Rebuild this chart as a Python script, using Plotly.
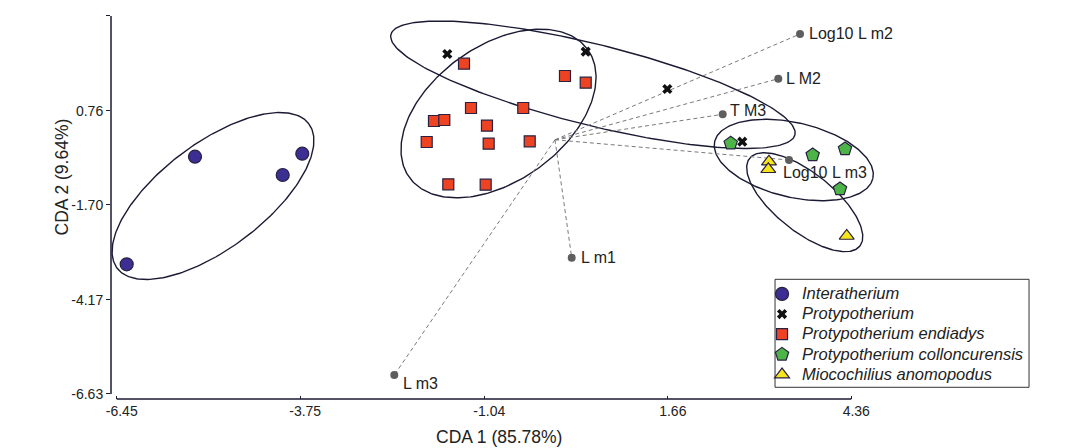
import numpy as np
import plotly.graph_objects as go

# ---------------- data (CDA scores) ----------------
inter_x = [-5.298, -4.007, -3.719, -6.303]
inter_y = [-0.441, -0.918, -0.363, -3.247]

proto_x = [-1.585, 0.452, 1.653, 2.756]
proto_y = [2.238, 2.298, 1.325, -0.050]

endi_x = [-1.339, 0.147, 0.452, -1.236, -0.467, -1.781, -1.629, -1.001, -1.888, -0.976, -0.372, -1.570, -1.020]
endi_y = [1.985, 1.664, 1.489, 0.829, 0.829, 0.490, 0.516, 0.368, -0.057, -0.102, -0.039, -1.161, -1.171]

coll_x = [2.586, 3.792, 4.268, 4.194]
coll_y = [-0.091, -0.396, -0.240, -1.283]

mioc_x = [3.149, 3.139, 4.293]
mioc_y = [-0.571, -0.769, -2.509]

# variable loadings
load_names = ["Log10 L m2", "L M2", "T M3", "Log10 L m3", "L m1", "L m3"]
load_x = [3.606, 3.286, 2.468, 3.444, 0.246, -2.365]
load_y = [2.760, 1.594, 0.665, -0.527, -3.075, -6.135]

# group ellipses: centre, major and minor half-axis vectors (data units)
ell_cx = [-5.033, -0.831, 0.558, 3.514, 3.675]
ell_cy = [-1.466, 0.686, 1.436, -0.527, -1.628]
ell_ax = [1.410, 1.313, 2.973, 1.164, 0.811]
ell_ay = [1.883, 1.667, -1.309, -0.480, -1.145]
ell_bx = [0.466, 0.580, -0.144, -0.1245, -0.269]
ell_by = [-1.095, -1.435, -1.025, -0.947, -0.595]

xticks = [-6.45, -3.75, -1.04, 1.66, 4.36]
yticks = [3.23, 0.76, -1.70, -4.17, -6.63]
xtick_text = ["-6.45", "-3.75", "-1.04", "1.66", "4.36"]
ytick_text = ["3.23", "0.76", "-1.70", "-4.17", "-6.63"]

# ---------------- figure ----------------
FONT = "Liberation Sans, Arial, sans-serif"
INK = "#1b1a33"
TXT = "#222222"
fig = go.Figure()

t = np.linspace(0, 2 * np.pi, 241)
for cx, cy, ax, ay, bx, by in zip(ell_cx, ell_cy, ell_ax, ell_ay, ell_bx, ell_by):
    fig.add_trace(go.Scatter(
        x=cx + ax * np.cos(t) + bx * np.sin(t),
        y=cy + ay * np.cos(t) + by * np.sin(t),
        mode="lines", line=dict(color=INK, width=1.4),
        showlegend=False, hoverinfo="skip"))

# loading vectors
lx, ly = [], []
for x, y in zip(load_x, load_y):
    lx += [0, x, None]
    ly += [0, y, None]
fig.add_trace(go.Scatter(x=lx, y=ly, mode="lines",
                         line=dict(color="#7a7a7a", width=1, dash="4px,3px"),
                         showlegend=False, hoverinfo="skip"))
fig.add_trace(go.Scatter(x=load_x, y=load_y, mode="markers",
                         marker=dict(color="#5e5e5e", size=8),
                         showlegend=False, cliponaxis=False))

edge = dict(color="#2a2040", width=1.2)


def lg(name):
    return '<span style="font-size:16.5px"><i>' + name + '</i></span>'


fig.add_trace(go.Scatter(x=inter_x, y=inter_y, mode="markers", name=lg("Interatherium"),
                         marker=dict(symbol="circle", size=13, color="#3b2f94", line=edge)))
fig.add_trace(go.Scatter(x=proto_x, y=proto_y, mode="markers", name=lg("Protypotherium"),
                         marker=dict(symbol="x", size=9, color="#111111", line=dict(width=0))))
fig.add_trace(go.Scatter(x=endi_x, y=endi_y, mode="markers", name=lg("Protypotherium endiadys"),
                         marker=dict(symbol="square", size=11, color="#ee4323", line=edge)))
fig.add_trace(go.Scatter(x=coll_x, y=coll_y, mode="markers", name=lg("Protypotherium colloncurensis"),
                         marker=dict(symbol="pentagon", size=14, color="#4db548", line=edge)))
fig.add_trace(go.Scatter(x=mioc_x, y=mioc_y, mode="markers", name=lg("Miocochilius anomopodus"),
                         marker=dict(symbol="triangle-up", size=13, color="#f6e619", line=edge)))

# loading labels
label_off = {"Log10 L m2": (7, 0), "L M2": (6, 0), "T M3": (5, 4),
             "Log10 L m3": (-8, -12), "L m1": (7, 0), "L m3": (7, -8)}
for name, x, y in zip(load_names, load_x, load_y):
    dx, dy = label_off[name]
    fig.add_annotation(x=x, y=y, text=name, showarrow=False, xanchor="left", yanchor="middle",
                       xshift=dx, yshift=dy, font=dict(family=FONT, size=16, color=TXT))

# axis titles
fig.add_annotation(xref="paper", yref="paper", x=0.5046, y=-0.099, text="CDA 1 (85.78%)",
                   showarrow=False, xanchor="center", yanchor="middle",
                   font=dict(family=FONT, size=17.5, color=TXT))
fig.add_annotation(xref="paper", yref="paper", x=-0.0637, y=0.577, text="CDA 2 (9.64%)",
                   showarrow=False, textangle=-90, xanchor="center", yanchor="middle",
                   font=dict(family=FONT, size=17.5, color=TXT))

# axis lines (offset, as in the original) and legend frame
fig.add_shape(type="line", xref="paper", yref="y", x0=0, x1=0, y0=yticks[-1], y1=yticks[0],
              line=dict(color=INK, width=1.5))
fig.add_shape(type="line", xref="x", yref="paper", x0=xticks[0], x1=xticks[-1], y0=0, y1=0,
              line=dict(color=INK, width=1.5))
fig.add_shape(type="rect", xref="paper", yref="paper", x0=0.8635, x1=1.1938, y0=0.0305, y1=0.3117,
              line=dict(color="#333333", width=1), fillcolor="white", layer="below")

# the page body has an 8px margin, so the figure is 8px smaller and offset
fig.update_layout(
    width=1073, height=440,
    margin=dict(l=103, r=201, t=7, b=49),
    paper_bgcolor="white", plot_bgcolor="white",
    font=dict(family=FONT, color=TXT),
    showlegend=True,
    legend=dict(x=0.8466, y=0.313, xanchor="left", yanchor="top",
                bgcolor="rgba(0,0,0,0)", borderwidth=0,
                font=dict(family=FONT, size=13.2, color=TXT),
                itemsizing="trace"),
    xaxis=dict(range=[-6.534, 4.783], showgrid=False, zeroline=False, showline=False,
               tickmode="array", tickvals=xticks, ticktext=xtick_text,
               ticks="inside", ticklen=3, tickcolor=INK, tickwidth=1.2,
               ticklabelshift=5, ticklabelstandoff=2,
               tickfont=dict(family=FONT, size=14, color=TXT)),
    yaxis=dict(range=[-6.761, 3.255], showgrid=False, zeroline=False, showline=False,
               tickmode="array", tickvals=yticks, ticktext=ytick_text,
               ticks="outside", ticklen=4, tickcolor=INK, tickwidth=1.2,
               tickfont=dict(family=FONT, size=14, color=TXT)),
)

fig.write_html("out.html")
